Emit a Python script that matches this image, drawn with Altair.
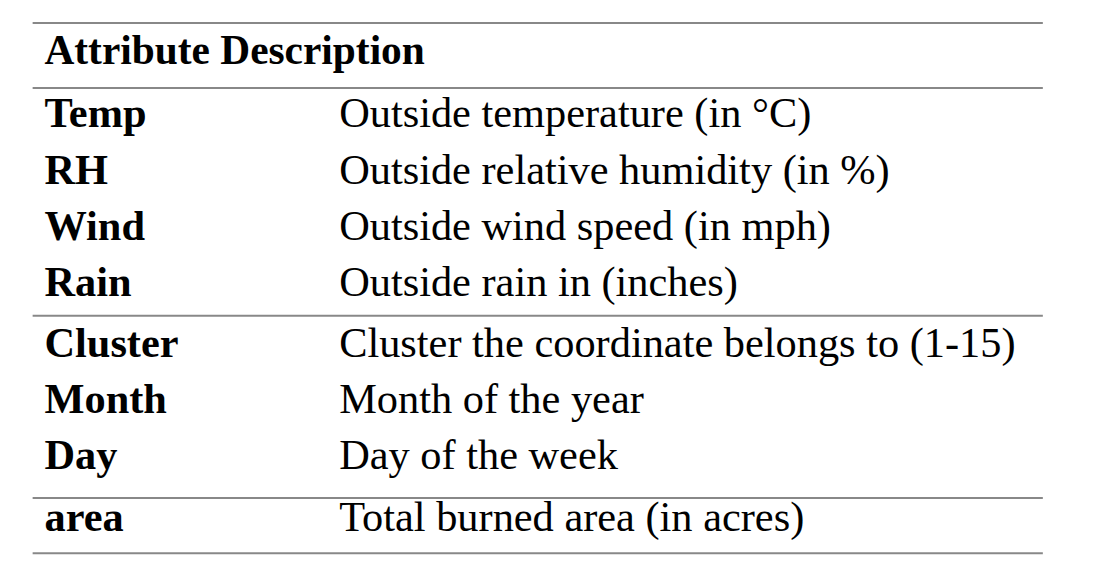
import altair as alt
import pandas as pd

attributes = ["Temp", "RH", "Wind", "Rain", "Cluster", "Month", "Day", "area"]
descriptions = [
    "Outside temperature (in °C)",
    "Outside relative humidity (in %)",
    "Outside wind speed (in mph)",
    "Outside rain in (inches)",
    "Cluster the coordinate belongs to (1-15)",
    "Month of the year",
    "Day of the week",
    "Total burned area (in acres)",
]
groups = [0, 0, 0, 0, 1, 1, 1, 2]
header = "Attribute Description"

# row centres in pixel space (rows 57px apart, extra gap between groups)
row_y = []
y = 112
for i, g in enumerate(groups):
    if i > 0:
        y += 57 + (5 if g != groups[i - 1] else 0)
    row_y.append(y)
rows = pd.DataFrame({"attr": attributes, "desc": descriptions, "y": row_y})
rules = pd.DataFrame({"y": [19, 85, 316, 501, 557]})
head = pd.DataFrame({"t": [header], "y": [48]})

X = alt.Scale(domain=[8, 1116])
Y = alt.Scale(domain=[8, 582], reverse=True)
noaxis = dict(axis=None)

lines = alt.Chart(rules).mark_rule(color="#888888", strokeWidth=2).encode(
    x=alt.datum(33, scale=X, **noaxis), x2=alt.datum(1058),
    y=alt.Y("y:Q", scale=Y, **noaxis)
)
htext = alt.Chart(head).mark_text(
    font="Liberation Serif", fontSize=42, fontWeight="bold", align="left", baseline="middle", color="black"
).encode(x=alt.datum(45, scale=X), y=alt.Y("y:Q", scale=Y), text="t:N")
atext = alt.Chart(rows).mark_text(
    font="Liberation Serif", fontSize=43, fontWeight="bold", align="left", baseline="middle", color="black"
).encode(x=alt.datum(45, scale=X), y=alt.Y("y:Q", scale=Y), text="attr:N")
dtext = alt.Chart(rows).mark_text(
    font="Liberation Serif", fontSize=43, align="left", baseline="middle", color="black"
).encode(x=alt.datum(344, scale=X), y=alt.Y("y:Q", scale=Y), text="desc:N")

chart = (lines + htext + atext + dtext).properties(
    width=1108, height=574, padding=0, autosize="none"
).configure_view(stroke=None)

chart.save("out.html", embed_options={"renderer": "svg", "actions": False})
